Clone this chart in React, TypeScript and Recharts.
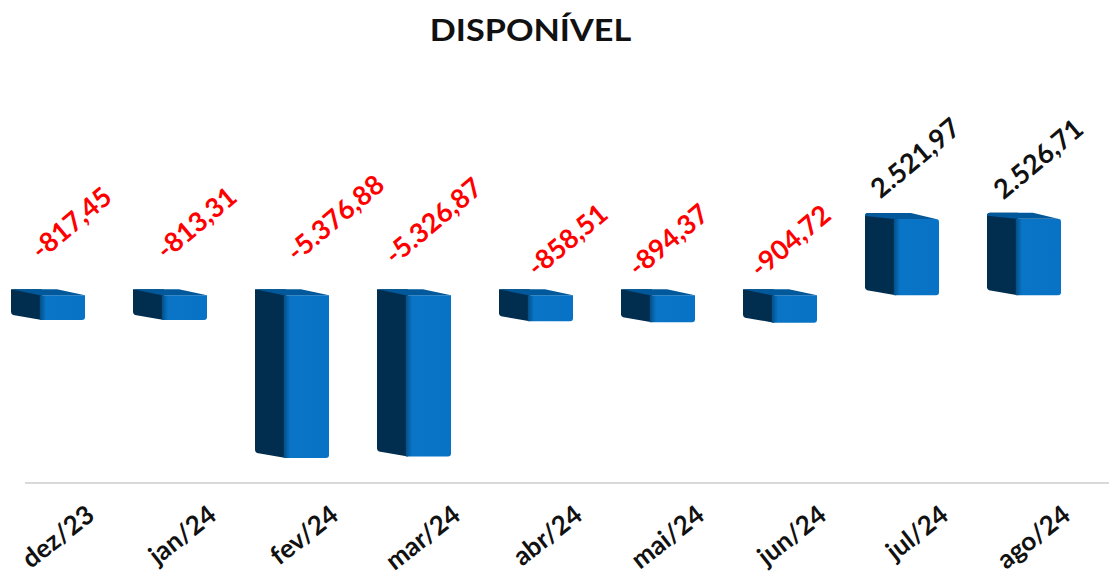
import { BarChart, Bar, XAxis, YAxis, LabelList } from "recharts";

const months = ["dez/23", "jan/24", "fev/24", "mar/24", "abr/24", "mai/24", "jun/24", "jul/24", "ago/24"];
const disponivel = [-817.45, -813.31, -5376.88, -5326.87, -858.51, -894.37, -904.72, 2521.97, 2526.71];
const valueLabels = ["-817,45", "-813,31", "-5.376,88", "-5.326,87", "-858,51", "-894,37", "-904,72", "2.521,97", "2.526,71"];

// Excel labels were dragged by hand, so each one has its own nudge from the bar centre
const labelNudgeX = [25, 28, 45, 21, 33, 12, 12, 15, 16];
const labelNudgeY = [-64, -64, -69, -66, -47, -47, -46, -129, -128];

const chartData = months.map((month, i) => ({ month, disponivel: disponivel[i] }));

const DEPTH = 6;
const SHIFT = 38; // the 3D bars sit left of their category centre

function Box3D(props: any) {
  const top = Math.min(props.y, props.y + props.height);
  const bottom = Math.max(props.y, props.y + props.height);
  const w = props.width;
  const left = props.x - SHIFT;
  const side = w * 0.39;
  const f = DEPTH;
  // positive bars have softened top corners, negative ones soft bottom corners
  const r = props.value > 0 || props.disponivel > 0 ? 3 : 0;
  return (
    <g>
      <path
        d={`M${left} ${top + r} Q${left} ${top} ${left + r} ${top} H${left + side + 2} V${bottom + f} L${left + 2} ${bottom + 1} Q${left} ${bottom} ${left} ${bottom - 2} Z`}
        fill="#012e4f"
      />
      <path
        d={`M${left + side} ${top + f} H${left + w - r} Q${left + w} ${top + f} ${left + w} ${top + f + r} V${bottom + f - 3} Q${left + w} ${bottom + f} ${left + w - 3} ${bottom + f} H${left + side} Z`}
        fill="url(#frontFace)"
      />
      <path
        d={`M${left + r} ${top} H${left + w * 0.62} L${left + w - r} ${top + f} H${left + side} L${left} ${top + r} Q${left} ${top} ${left + r} ${top} Z`}
        fill="#01589a"
      />
    </g>
  );
}

function ValueLabel(props: any) {
  const { x, width, index } = props;
  const cx = x + width / 2 - SHIFT + labelNudgeX[index];
  const cy = 289 + labelNudgeY[index];
  return (
    <text
      x={cx}
      y={cy}
      textAnchor="middle"
      dominantBaseline="middle"
      transform={`rotate(-40 ${cx} ${cy})`}
      fontFamily="Lato"
      fontWeight={700}
      fontSize={27}
      fill={disponivel[index] < 0 ? "#ff0000" : "#111111"}
    >
      {valueLabels[index]}
    </text>
  );
}

function MonthTick(props: any) {
  const { x, payload } = props;
  const ax = x + 6;
  const ay = 513;
  return (
    <text
      x={ax}
      y={ay}
      textAnchor="end"
      dominantBaseline="middle"
      transform={`rotate(-38 ${ax} ${ay})`}
      fontFamily="Lato"
      fontWeight={700}
      fontSize={26}
      fill="#111111"
    >
      {payload.value}
    </text>
  );
}

export default function App() {
  return (
    <div style={{ position: "absolute", left: 0, top: 0, width: 1109, height: 575, overflow: "hidden", background: "#fff" }}>
      <div
        style={{
          position: "absolute",
          left: 0,
          top: 11,
          width: 1061,
          textAlign: "center",
          fontFamily: "Lato",
          fontWeight: 700,
          fontSize: 30,
          lineHeight: "36px",
          color: "#111",
          transform: "scaleX(1.14)",
        }}
      >
        DISPONÍVEL
      </div>
      <BarChart
        width={1109}
        height={575}
        data={chartData}
        margin={{ top: 200, right: -14, bottom: 0, left: 25 }}
        barSize={74}
      >
        <defs>
          <linearGradient id="frontFace" x1="0" y1="0" x2="1" y2="0">
            <stop offset="0" stopColor="#024f88" />
            <stop offset="0.14" stopColor="#0a75c6" />
            <stop offset="1" stopColor="#0873c6" />
          </linearGradient>
        </defs>
        <XAxis
          dataKey="month"
          axisLine={{ stroke: "#d9d9d9", strokeWidth: 2 }}
          tickLine={false}
          interval={0}
          height={92}
          tick={<MonthTick />}
        />
        <YAxis hide domain={[-6400, 2950]} />
        <Bar dataKey="disponivel" shape={<Box3D />} isAnimationActive={false}>
          <LabelList dataKey="disponivel" content={<ValueLabel />} />
        </Bar>
      </BarChart>
    </div>
  );
}
